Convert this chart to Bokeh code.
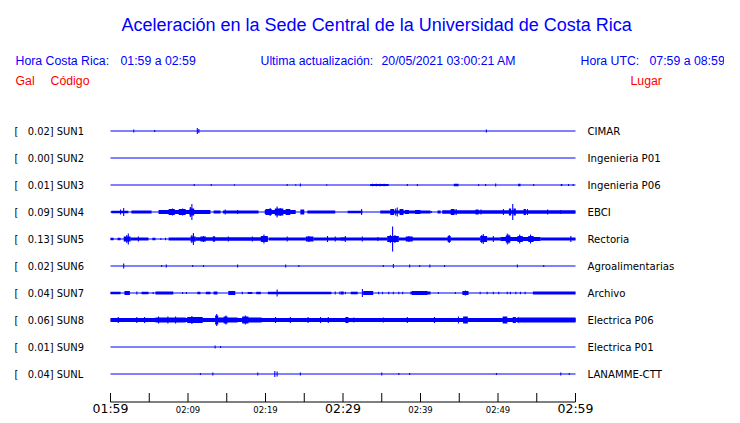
from bokeh.plotting import figure
from bokeh.models import Range1d
from bokeh.core.properties import value
from bokeh.embed import file_html
from bokeh.resources import INLINE

# ---------------- data ----------------
TITLE = "Aceleración en la Sede Central de la Universidad de Costa Rica"
HORA_CR = "01:59 a 02:59"
ACTUALIZACION = "20/05/2021 03:00:21 AM"
HORA_UTC = "07:59 a 08:59"

codes = ["SUN1", "SUN2", "SUN3", "SUN4", "SUN5", "SUN6", "SUN7", "SUN8", "SUN9", "SUNL"]
gal = ["0.02", "0.00", "0.01", "0.09", "0.13", "0.02", "0.04", "0.06", "0.01", "0.04"]
places = ["CIMAR", "Ingenieria P01", "Ingenieria P06", "EBCI", "Rectoria",
          "Agroalimentarias", "Archivo", "Electrica P06", "Electrica P01", "LANAMME-CTT"]

tick_minutes = [0, 5, 10, 15, 20, 25, 30, 35, 40, 45, 50, 55, 60]
tick_labels = ["01:59", "", "02:09", "", "02:19", "", "02:29", "", "02:39", "", "02:49", "", "02:59"]
major_labels = ["01:59", "02:29", "02:59"]

# envelopes: (start_min, end_min, half_amplitude) and (min, half_amplitude)
SUN1_BANDS = []
SUN1_SPIKES = [(3.0, 1.5), (5.7, 1.0), (11.2, 3.0), (11.4, 2.0), (48.5, 1.5)]
SUN2_BANDS = []
SUN2_SPIKES = []
SUN3_BANDS = [(33.5, 35.9, 1.0), (44.3, 44.9, 1.2), (52.6, 52.9, 1.2), (58.1, 58.3, 1.0)]
SUN3_SPIKES = [(10.8, 1.0), (13.0, 1.0), (16.0, 0.8), (22.8, 1.0), (23.9, 0.8), (24.5, 1.5),
               (27.9, 0.8), (33.8, 1.3), (34.3, 1.3), (34.8, 1.3), (35.3, 1.3), (38.3, 1.0),
               (39.6, 1.0), (47.5, 1.0), (48.4, 1.0), (49.7, 1.5), (54.6, 1.0), (59.1, 1.0), (59.7, 1.0)]
SUN4_BANDS = [(0.1, 2.3, 1.3), (2.7, 5.3, 1.5), (6.2, 12.9, 2.0), (7.5, 8.3, 3.0), (8.8, 9.7, 3.0),
              (10.2, 10.8, 3.5), (13.3, 14.2, 1.5), (14.5, 19.1, 1.5), (19.9, 23.9, 2.0),
              (20.0, 20.8, 3.0), (21.2, 22.3, 3.5), (22.6, 23.2, 3.0),
              (24.5, 25.0, 2.5), (25.4, 29.0, 1.5), (30.6, 32.5, 1.2), (34.8, 41.3, 1.5),
              (36.1, 36.6, 3.0), (37.3, 37.8, 3.0), (38.0, 38.5, 2.0), (39.3, 40.0, 2.0),
              (42.2, 42.6, 1.5), (42.8, 60.0, 1.7), (43.9, 44.4, 3.0), (47.1, 47.5, 2.5),
              (51.4, 51.7, 3.5), (52.0, 52.3, 3.5), (53.3, 53.6, 3.0)]
SUN4_SPIKES = [(1.7, 4.0), (1.3, 2.5), (8.0, 3.5), (9.3, 3.5), (10.5, 8.0), (10.3, 5.0), (14.8, 2.5),
               (16.4, 2.0), (20.6, 4.0), (21.5, 5.5), (21.9, 4.0), (32.4, 3.0), (36.8, 3.5),
               (37.0, 4.5), (41.4, 1.0), (44.6, 3.0), (47.8, 2.5), (50.7, 3.0), (51.9, 8.0),
               (53.8, 3.0), (56.4, 2.5), (58.1, 2.0)]
SUN5_BANDS = [(0.0, 0.4, 1.3), (0.9, 1.3, 1.2), (1.7, 2.6, 2.5), (2.6, 4.9, 1.5), (5.4, 5.8, 1.2),
              (7.5, 10.3, 1.5), (10.3, 11.0, 2.5), (11.0, 20.3, 1.7), (11.6, 12.3, 2.5),
              (13.2, 13.5, 2.8), (19.4, 20.3, 3.0), (20.4, 25.2, 1.5), (25.2, 26.2, 2.5),
              (26.2, 30.3, 1.5), (29.7, 35.7, 1.5), (35.7, 37.2, 3.0), (37.2, 43.9, 1.5),
              (38.1, 39.0, 2.5), (43.5, 43.9, 3.0), (43.9, 47.7, 1.5), (47.7, 48.6, 3.0),
              (48.6, 50.3, 1.5), (50.3, 55.5, 2.0), (51.0, 51.6, 3.5), (52.5, 53.2, 3.0),
              (53.9, 54.6, 3.0), (55.5, 60.0, 1.5)]
SUN5_SPIKES = [(2.1, 4.0), (2.3, 5.5), (3.6, 2.5), (6.5, 1.0), (7.1, 1.2), (10.7, 6.0), (10.5, 4.0),
               (12.0, 3.0), (15.2, 2.5), (18.3, 2.5), (19.8, 4.5), (22.8, 2.5), (25.6, 3.0),
               (28.0, 3.0), (29.0, 2.5), (30.3, 3.0), (32.5, 2.5), (34.5, 2.0), (36.1, 4.0),
               (36.4, 12.5), (36.7, 4.0), (38.5, 3.0), (43.7, 4.0), (48.1, 5.0), (47.9, 4.0),
               (49.4, 3.0), (51.2, 5.5), (51.4, 4.5), (52.8, 4.5), (54.2, 4.5), (59.4, 3.0)]
SUN6_BANDS = []
SUN6_SPIKES = [(1.7, 2.5), (6.6, 1.0), (7.2, 1.5), (10.6, 1.0), (12.0, 1.0), (16.4, 1.5), (22.6, 1.5),
               (24.3, 1.0), (35.2, 1.0), (36.5, 2.0), (38.6, 1.5), (39.9, 1.0), (41.2, 1.5),
               (43.1, 1.0), (52.5, 1.5), (55.9, 1.0)]
SUN7_BANDS = [(0.0, 1.3, 1.2), (1.8, 2.5, 2.0), (4.0, 4.9, 1.2), (5.8, 8.1, 1.5), (11.2, 11.6, 1.2),
              (12.3, 12.9, 1.2), (13.3, 13.8, 1.5), (15.2, 16.1, 2.0), (17.7, 18.3, 1.0),
              (18.8, 19.4, 1.2), (20.3, 28.5, 1.3), (29.7, 30.1, 1.5), (31.0, 31.9, 1.3),
              (32.6, 33.9, 2.0), (38.7, 41.3, 1.5), (38.9, 40.9, 2.0), (45.4, 46.2, 2.0),
              (54.5, 60.0, 1.5)]
SUN7_SPIKES = [(3.4, 1.5), (5.5, 1.0), (9.3, 1.0), (9.8, 1.0), (17.0, 1.2), (21.5, 3.5), (29.0, 1.5),
               (29.6, 1.5), (30.3, 1.2), (32.5, 4.0), (34.6, 1.2), (35.1, 1.2), (35.9, 1.2),
               (36.5, 1.2), (37.2, 1.2), (37.7, 1.2), (42.3, 1.0), (44.5, 1.0), (45.8, 2.5),
               (47.7, 1.2), (48.6, 1.2), (49.4, 1.2), (50.1, 1.2), (51.2, 1.2), (51.6, 1.2),
               (52.3, 1.2), (52.9, 1.2), (53.5, 1.2)]
SUN8_BANDS = [(0.0, 60.0, 2.0), (5.8, 9.7, 2.5), (9.9, 11.9, 3.0), (13.5, 13.9, 4.5), (13.9, 16.4, 2.5),
              (14.6, 15.1, 3.5), (17.0, 19.5, 2.5), (17.0, 17.8, 3.5), (30.3, 30.7, 3.0),
              (45.5, 46.1, 3.5), (50.6, 51.2, 3.5), (51.9, 52.3, 3.0), (52.6, 60.0, 2.5)]
SUN8_SPIKES = [(1.0, 3.0), (3.4, 3.0), (4.4, 3.0), (6.2, 3.5), (7.4, 3.5), (8.4, 3.5), (10.5, 4.0),
               (13.7, 6.0), (14.9, 4.5), (17.4, 4.5), (21.3, 3.0),
               (23.2, 3.0), (25.5, 3.0), (27.1, 3.0), (28.1, 3.0), (31.4, 2.5), (35.2, 2.5),
               (38.3, 3.0), (41.8, 3.0), (44.9, 3.5), (52.6, 3.0)]
SUN9_BANDS = []
SUN9_SPIKES = [(13.5, 1.5), (14.2, 1.0)]
SUNL_BANDS = []
SUNL_SPIKES = [(11.6, 1.0), (13.2, 1.5), (19.0, 1.5), (21.2, 3.0), (21.5, 2.5), (24.5, 1.5),
               (35.0, 1.5), (37.2, 1.0), (38.6, 1.0), (49.8, 1.0), (58.1, 1.5), (59.2, 1.0)]

ALL_BANDS = [SUN1_BANDS, SUN2_BANDS, SUN3_BANDS, SUN4_BANDS, SUN5_BANDS,
             SUN6_BANDS, SUN7_BANDS, SUN8_BANDS, SUN9_BANDS, SUNL_BANDS]
ALL_SPIKES = [SUN1_SPIKES, SUN2_SPIKES, SUN3_SPIKES, SUN4_SPIKES, SUN5_SPIKES,
              SUN6_SPIKES, SUN7_SPIKES, SUN8_SPIKES, SUN9_SPIKES, SUNL_SPIKES]

# ---------------- layout constants ----------------
W, H = 724, 415
PX_PER_MIN = 465 / 60.0      # trace width 465 px for 60 minutes
X0_PX = 110                  # px of minute 0
ROW_PX = 27.0                # px between traces
Y0_PX = 130.5                # px of first trace
AMP_PER_ROW = ROW_PX         # amplitude units per row
SPIKE_W = 0.14               # minutes


def mx(px):
    return (px - X0_PX) / PX_PER_MIN


def my(py):
    return (py - Y0_PX) / ROW_PX


BLUE = "#0000ff"
RED = "#ff0000"

p = figure(width=W, height=H, output_backend="svg", toolbar_location=None,
           x_range=Range1d(-X0_PX / PX_PER_MIN, (W - X0_PX) / PX_PER_MIN),
           y_range=Range1d((H - Y0_PX) / ROW_PX, -Y0_PX / ROW_PX),
           min_border=0, outline_line_color=None, background_fill_color="white",
           border_fill_color="white")
p.axis.visible = False
p.grid.visible = False

# baselines
rows = list(range(len(codes)))
p.segment(x0=[tick_minutes[0]] * len(rows), x1=[tick_minutes[-1]] * len(rows), y0=rows, y1=rows,
          line_color=BLUE, line_width=1)

# envelopes
bl, br, bb, bt = [], [], [], []
for r, (bands, spikes) in enumerate(zip(ALL_BANDS, ALL_SPIKES)):
    for (t0, t1, a) in bands:
        bl.append(t0); br.append(t1)
        bb.append(r - a / AMP_PER_ROW); bt.append(r + a / AMP_PER_ROW)
    for (t, a) in spikes:
        bl.append(t - SPIKE_W / 2); br.append(t + SPIKE_W / 2)
        bb.append(r - a / AMP_PER_ROW); bt.append(r + a / AMP_PER_ROW)
p.quad(left=bl, right=br, bottom=bb, top=bt, fill_color=BLUE, line_color=None)

# station labels
label_font = value("DejaVu Sans Condensed, DejaVu Sans")
p.text(x=[mx(14)] * len(rows), y=rows, text=["["] * len(rows), text_font=label_font,
       text_font_size="11px", text_color="black", text_baseline="middle", text_align="left")
p.text(x=[mx(27.3)] * len(rows), y=rows, text=[f"{g}] {c}" for g, c in zip(gal, codes)],
       text_font=label_font, text_font_size="11px", text_color="black",
       text_baseline="middle", text_align="left")
p.text(x=[mx(587)] * len(rows), y=rows, text=places, text_font=label_font,
       text_font_size="11.3px", text_color="black", text_baseline="middle", text_align="left")

# time axis (kept inside the visible canvas)
axis_y = my(401.5)
tick_top = my(392.5)
p.segment(x0=[tick_minutes[0]], x1=[tick_minutes[-1]], y0=[axis_y], y1=[axis_y],
          line_color="black", line_width=1)
p.segment(x0=tick_minutes, x1=tick_minutes, y0=[axis_y] * len(tick_minutes),
          y1=[tick_top] * len(tick_minutes), line_color="black", line_width=1)
big_x = [m for m, l in zip(tick_minutes, tick_labels) if l in major_labels]
big_t = [l for l in tick_labels if l in major_labels]
small_x = [m for m, l in zip(tick_minutes, tick_labels) if l and l not in major_labels]
small_t = [l for l in tick_labels if l and l not in major_labels]
p.text(x=big_x, y=[my(415)] * len(big_x), text=big_t, text_font=value("DejaVu Sans"),
       text_font_size="12.5px", text_color="black", text_align="center", text_baseline="bottom")
p.text(x=small_x, y=[my(414)] * len(small_x), text=small_t, text_font=value("DejaVu Sans"),
       text_font_size="8.5px", text_color="black", text_align="center", text_baseline="bottom")

# header texts
hf = value("Liberation Sans")
p.text(x=[mx(121)], y=[my(24)], text=[TITLE], text_font=hf, text_font_size="18px",
       text_color=BLUE, text_baseline="middle", text_align="left")
p.text(x=[mx(15), mx(120), mx(260), mx(381), mx(580), mx(649)], y=[my(60.5)] * 6,
       text=["Hora Costa Rica:", HORA_CR, "Ultima actualización:", ACTUALIZACION, "Hora UTC:",
             HORA_UTC],
       text_font=hf, text_font_size="12.3px", text_color=BLUE, text_baseline="middle",
       text_align="left")
p.text(x=[mx(15), mx(50), mx(630)], y=[my(80.5)] * 3, text=["Gal", "Código", "Lugar"],
       text_font=hf, text_font_size="12.3px", text_color=RED, text_baseline="middle",
       text_align="left")

html = file_html(p, INLINE)
open("out.html", "w").write(html)
